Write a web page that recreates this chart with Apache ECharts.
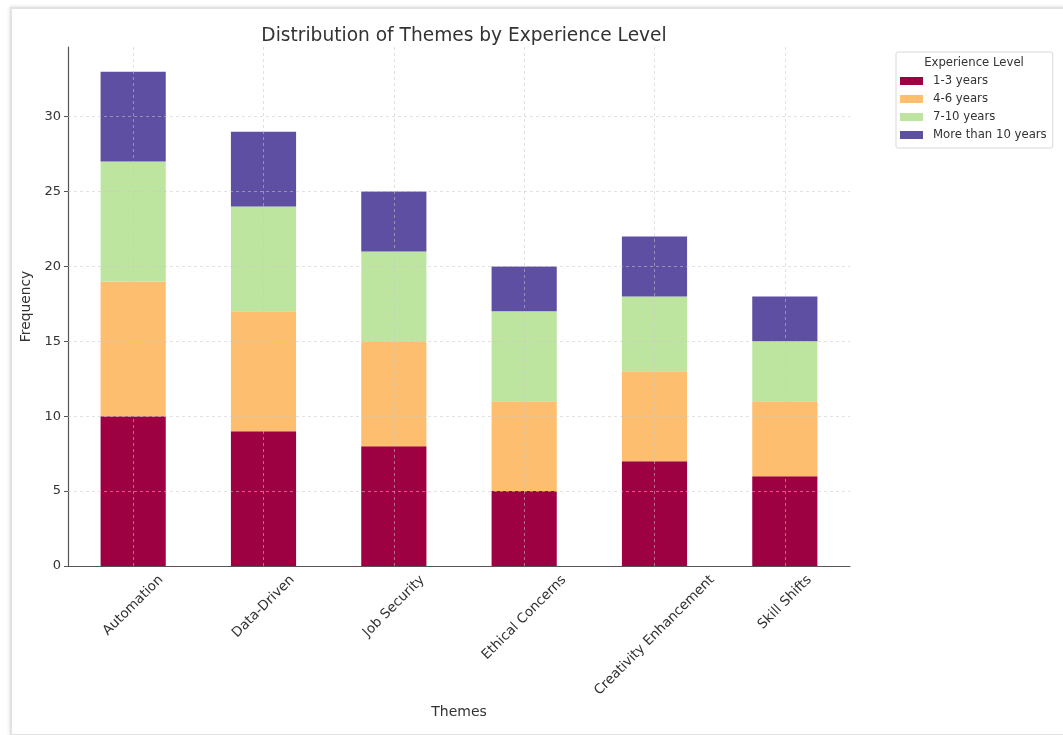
<!DOCTYPE html>
<html>
<head>
<meta charset="utf-8">
<script src="https://cdn.jsdelivr.net/npm/echarts@6/dist/echarts.min.js"></script>
<style>
html,body{margin:0;padding:0;background:#fff;}
#frame{position:absolute;left:10px;top:7px;width:1070px;height:725px;border:2px solid #e2e2e2;box-shadow:0 0 4px rgba(0,0,0,0.15);}
#chart{position:absolute;left:0;top:0;width:1063px;height:735px;}
</style>
</head>
<body>
<div id="frame"></div>
<div id="chart"></div>
<script>
const categories = ["Automation", "Data-Driven", "Job Security", "Ethical Concerns", "Creativity Enhancement", "Skill Shifts"];
const seriesNames = ["1-3 years", "4-6 years", "7-10 years", "More than 10 years"];
const years1to3 = [10, 9, 8, 5, 7, 6];
const years4to6 = [9, 8, 7, 6, 6, 5];
const years7to10 = [8, 7, 6, 6, 5, 4];
const years10plus = [6, 5, 4, 3, 4, 3];
const yTicks = [0, 5, 10, 15, 20, 25, 30];
const colors = ["#9e0142", "#fdbf6f", "#bee5a0", "#5e4fa2"];

const font = "DejaVu Sans";
const xLabelSize = 13.5;
const chart = echarts.init(document.getElementById('chart'), null, {renderer: 'canvas'});
const values = [years1to3, years4to6, years7to10, years10plus];
const totals = categories.map((c, i) => values.reduce((s, a) => s + a[i], 0));
const yMax = Math.max(...totals) * 1.05;

const gridStyle = {color: 'rgba(200,200,200,0.55)', type: [3, 3], width: 1};
const series = seriesNames.map((name, k) => ({
  name: name,
  type: 'bar',
  stack: 'total',
  barWidth: '50%',
  data: values[k],
  itemStyle: {color: colors[k]},
  z: 2
}));
series.push({
  type: 'line',
  data: [],
  silent: true,
  z: 5,
  markLine: {
    silent: true,
    symbol: 'none',
    label: {show: false},
    lineStyle: gridStyle,
    data: categories.map(c => ({xAxis: c})).concat(yTicks.slice(1).map(v => ({yAxis: v})))
  }
});

const legendTitle = {
  id: 'legendTitle', type: 'text', x: 974, y: 63,
  style: {text: 'Experience Level', font: '11.7px "DejaVu Sans"', fill: '#333', align: 'center', verticalAlign: 'middle'}
};

chart.setOption({
  animation: false,
  backgroundColor: 'transparent',
  textStyle: {fontFamily: font},
  title: {
    text: 'Distribution of Themes by Experience Level',
    left: 459, top: 22, textAlign: 'center',
    textStyle: {fontFamily: font, fontSize: 18.6, fontWeight: 'normal', color: '#333'}
  },
  legend: {
    data: seriesNames,
    orient: 'vertical',
    left: 896, top: 52,
    padding: [23, 6, 7, 4],
    itemGap: 6,
    itemWidth: 23, itemHeight: 8,
    icon: 'rect',
    borderColor: '#d8d8d8', borderWidth: 1, borderRadius: 2,
    textStyle: {fontFamily: font, fontSize: 11.7, color: '#333', padding: [0, 0, 0, 5]}
  },
  graphic: [legendTitle],
  grid: {left: 68, right: 213, top: 47, bottom: 169},
  xAxis: {
    type: 'category',
    data: categories,
    name: 'Themes',
    nameLocation: 'middle',
    nameGap: 139,
    nameTextStyle: {fontFamily: font, fontSize: 14, color: '#333'},
    axisLine: {lineStyle: {color: '#555', width: 1.2}},
    axisTick: {alignWithLabel: true, length: 4, lineStyle: {color: '#555'}},
    axisLabel: {show: false},
    splitLine: {show: false}
  },
  yAxis: {
    type: 'value',
    min: 0, max: yMax, interval: 5,
    name: 'Frequency',
    nameLocation: 'middle',
    nameGap: 24,
    nameTextStyle: {fontFamily: font, fontSize: 13.8, color: '#333'},
    axisLine: {show: true, lineStyle: {color: '#555', width: 1.2}},
    axisTick: {show: true, length: 4, lineStyle: {color: '#555'}, customValues: yTicks},
    axisLabel: {fontFamily: font, fontSize: 13, color: '#333', margin: 7, customValues: yTicks},
    splitLine: {show: false}
  },
  series: series
});

// Rotated category labels centred under their ticks (matplotlib style)
const ctx = document.createElement('canvas').getContext('2d');
const fontStr = xLabelSize + 'px "DejaVu Sans"';
ctx.font = fontStr;
const axisY = chart.convertToPixel({yAxisIndex: 0}, 0);
const labelGraphics = categories.map((c, i) => {
  const w = ctx.measureText(c).width;
  const h = xLabelSize * 1.0;
  const half = (w + h) / (2 * Math.SQRT2);
  return {
    id: 'xl' + i, type: 'text',
    x: chart.convertToPixel({xAxisIndex: 0}, c),
    y: axisY + 7 + half,
    rotation: Math.PI / 4,
    style: {text: c, font: fontStr, fill: '#333', align: 'center', verticalAlign: 'middle'}
  };
});
chart.setOption({graphic: [legendTitle].concat(labelGraphics)});
</script>
</body>
</html>
